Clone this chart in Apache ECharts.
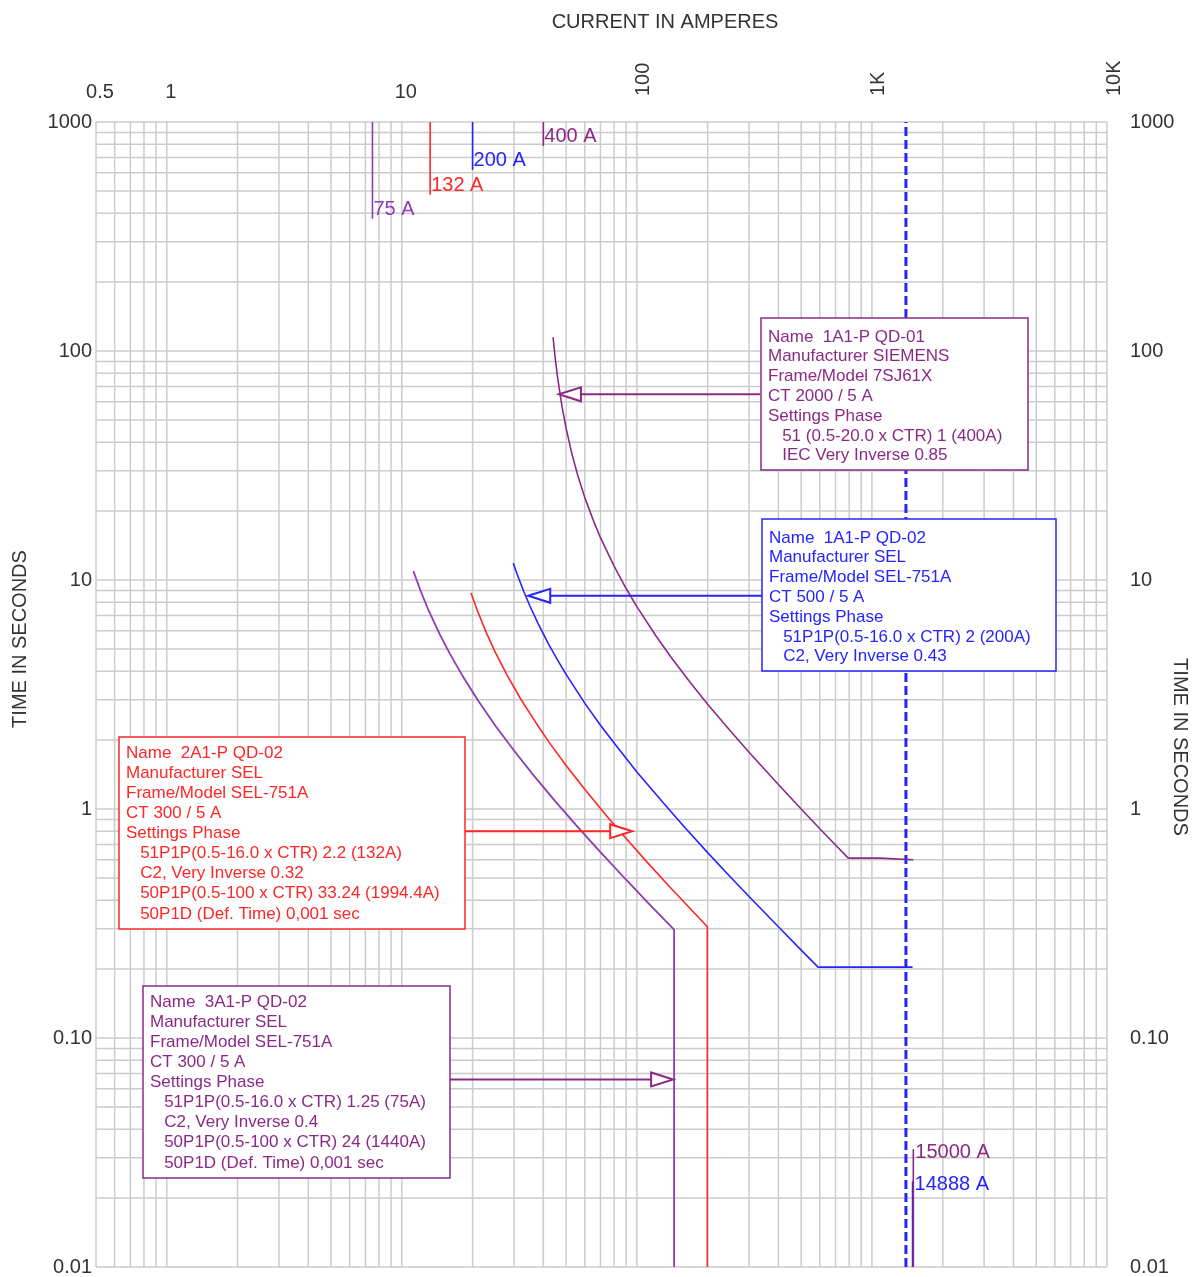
<!DOCTYPE html>
<html>
<head>
<meta charset="utf-8">
<title>Time-current curves</title>
<script src="https://cdn.jsdelivr.net/npm/echarts@6/dist/echarts.min.js"></script>
<style>
  html, body { margin: 0; padding: 0; background: #fff; }
  #main { width: 1192px; height: 1277px; }
</style>
</head>
<body>
<div id="main"></div>
<script>
// current axis is plotted as amperes / 10, time axis in seconds
const xTickValues = [0.5, 1, 10, 100, 1000, 10000];
const xTickLabels = ['0.5', '1', '10', '100', '1K', '10K'];
const yTickValues = [0.01, 0.1, 1, 10, 100, 1000];
const yTickLabels = ['0.01', '0.10', '1', '10', '100', '1000'];

// relay curves, [current, seconds]
const curveQD01 = [
  [44, 114.8], [45, 91.8], [46, 76.5], [48, 57.4], [50, 45.9], [53, 35.3], [56, 28.7],
  [60, 22.95], [65, 18.4], [70, 15.3], [80, 11.5], [90, 9.18], [100, 7.65], [120, 5.74],
  [140, 4.59], [170, 3.53], [200, 2.87], [250, 2.19], [300, 1.77], [400, 1.28],
  [500, 1.0], [600, 0.82], [700, 0.696], [793, 0.61], [1084, 0.61], [1084, 0.60], [1500, 0.60]
];
const curve1A1QD02 = [
  [29.8, 11.85], [31, 10.55], [33, 8.93], [35, 7.74], [38, 6.45], [42, 5.28], [46, 4.47],
  [50, 3.87], [60, 2.90], [70, 2.32], [80, 1.94], [100, 1.45], [130, 1.06], [160, 0.83],
  [200, 0.645], [250, 0.505], [300, 0.415], [400, 0.306], [500, 0.242], [590, 0.204],
  [1488.8, 0.204]
];
const curve2A1QD02 = [
  [19.7, 8.77], [21, 7.31], [23, 5.82], [25, 4.83], [28, 3.85], [32, 3.03], [37, 2.40],
  [43, 1.91], [50, 1.55], [60, 1.22], [75, 0.923], [90, 0.743], [110, 0.589], [135, 0.468],
  [165, 0.376], [199.44, 0.306], [199.44, 0.01]
];
const curve3A1QD02 = [
  [11.2, 10.95], [12, 9.0], [13, 7.36], [14.5, 5.79], [16, 4.77], [18, 3.86], [21, 3.0],
  [25, 2.31], [30, 1.8], [36, 1.42], [45, 1.08], [55, 0.853], [70, 0.648], [90, 0.491],
  [115, 0.377], [144, 0.297], [144, 0.01]
];
const faultLine = [[1395, 0.01], [1395, 1000]];

// pickup markers hanging from the top edge
const pickupCurrents = [7.5, 13.2, 20, 40];
const pickupEndTimes = [378, 481, 618, 786];
const pickupLabels = ['75 A', '132 A', '200 A', '400 A'];

// fault current markers standing on the bottom edge
const faultCurrents = [1488.8, 1500];
const faultTopTimes = [0.0237, 0.0327];
const faultLabels = ['14888 A', '15000 A'];

// leader arrows: from current, to current, at time
const arrowFrom = [335, 341, 18.6, 16.0];
const arrowTo = [46.6, 34.5, 95.5, 142.6];
const arrowTime = [64.7, 8.53, 0.80, 0.0659];

const box1Lines = ['Name  1A1-P QD-01', 'Manufacturer SIEMENS', 'Frame/Model 7SJ61X', 'CT 2000 / 5 A',
  'Settings Phase', '   51 (0.5-20.0 x CTR) 1 (400A)', '   IEC Very Inverse 0.85'];
const box2Lines = ['Name  1A1-P QD-02', 'Manufacturer SEL', 'Frame/Model SEL-751A', 'CT 500 / 5 A',
  'Settings Phase', '   51P1P(0.5-16.0 x CTR) 2 (200A)', '   C2, Very Inverse 0.43'];
const box3Lines = ['Name  2A1-P QD-02', 'Manufacturer SEL', 'Frame/Model SEL-751A', 'CT 300 / 5 A',
  'Settings Phase', '   51P1P(0.5-16.0 x CTR) 2.2 (132A)', '   C2, Very Inverse 0.32',
  '   50P1P(0.5-100 x CTR) 33.24 (1994.4A)', '   50P1D (Def. Time) 0,001 sec'];
const box4Lines = ['Name  3A1-P QD-02', 'Manufacturer SEL', 'Frame/Model SEL-751A', 'CT 300 / 5 A',
  'Settings Phase', '   51P1P(0.5-16.0 x CTR) 1.25 (75A)', '   C2, Very Inverse 0.4',
  '   50P1P(0.5-100 x CTR) 24 (1440A)', '   50P1D (Def. Time) 0,001 sec'];

// grid: every 1..9 step of each decade
const gridSteps = [1, 2, 3, 4, 5, 6, 7, 8, 9];
const xGrid = [];
[0.1, 1, 10, 100, 1000].forEach(d => gridSteps.forEach(s => { if (d * s >= 0.5) xGrid.push(d * s); }));
xGrid.push(10000);
const yGrid = [];
[0.01, 0.1, 1, 10, 100].forEach(d => gridSteps.forEach(s => yGrid.push(d * s)));
yGrid.push(1000);

const PURPLE = '#8b2a86';
const VIOLET = '#8e3cb2';
const RED = '#ff2626';
const BLUE = '#2424ff';
const GRID = '#cbcbcb';
const FONT = '"Liberation Sans", Arial, sans-serif';

const pickupColors = [VIOLET, RED, BLUE, PURPLE];
const faultColors = [BLUE, PURPLE];
const arrowColors = [PURPLE, BLUE, RED, PURPLE];

const X_MIN = 0.5, X_MAX = 10000, Y_MIN = 0.01, Y_MAX = 1000;

function tickLabel(values, labels, v) {
  for (let i = 0; i < values.length; i++) {
    if (Math.abs(Math.log10(v) - Math.log10(values[i])) < 1e-6) return labels[i];
  }
  return '';
}

const chart = echarts.init(document.getElementById('main'));

function box(left, top, width, height, lines, color, lineHeight, textTop) {
  return {
    type: 'group',
    z: 100,
    children: [
      { type: 'rect', z: 100, shape: { x: left, y: top, width: width, height: height },
        style: { fill: '#fff', stroke: color, lineWidth: 1.5 } },
      { type: 'text', z: 101, x: left + 7, y: top + textTop,
        style: { text: lines.join('\n'), font: '17px ' + FONT, lineHeight: lineHeight,
          fill: color, verticalAlign: 'top' } }
    ]
  };
}

const option = {
  animation: false,
  backgroundColor: '#fff',
  grid: { left: 96, right: 85, top: 122, bottom: 7 },
  xAxis: [
    {
      type: 'log', logBase: 10, min: X_MIN, max: X_MAX, position: 'top',
      axisLine: { show: false }, axisTick: { show: false }, splitLine: { show: false },
      axisLabel: {
        margin: 20, color: '#333', fontSize: 20, fontFamily: FONT, padding: [0, 0, 0, 8],
        formatter: v => (v < 100 ? tickLabel(xTickValues, xTickLabels, v) : '')
      }
    },
    {
      type: 'log', logBase: 10, min: X_MIN, max: X_MAX, position: 'top',
      axisLine: { show: false }, axisTick: { show: false }, splitLine: { show: false },
      axisLabel: {
        margin: 26, rotate: -90, color: '#333', fontSize: 20, fontFamily: FONT,
        verticalAlign: 'top', lineHeight: 14,
        formatter: v => (v >= 100 ? tickLabel(xTickValues, xTickLabels, v) : '')
      }
    }
  ],
  yAxis: [
    {
      type: 'log', logBase: 10, min: Y_MIN, max: Y_MAX, position: 'left',
      axisLine: { show: false }, axisTick: { show: false }, splitLine: { show: false },
      axisLabel: { margin: 4, color: '#333', fontSize: 20, fontFamily: FONT,
        formatter: v => tickLabel(yTickValues, yTickLabels, v) }
    },
    {
      type: 'log', logBase: 10, min: Y_MIN, max: Y_MAX, position: 'right',
      axisLine: { show: false }, axisTick: { show: false }, splitLine: { show: false },
      axisLabel: { margin: 23, color: '#333', fontSize: 20, fontFamily: FONT,
        formatter: v => tickLabel(yTickValues, yTickLabels, v) }
    }
  ],
  graphic: [
    { type: 'text', x: 665, y: 22, z: 100,
      style: { text: 'CURRENT IN AMPERES', font: '20px ' + FONT, fill: '#333',
        align: 'center', verticalAlign: 'middle' } },
    { type: 'text', x: 20, y: 639, rotation: Math.PI / 2, z: 100,
      style: { text: 'TIME IN SECONDS', font: '20px ' + FONT, fill: '#333',
        align: 'center', verticalAlign: 'middle' } },
    { type: 'text', x: 1180, y: 747, rotation: -Math.PI / 2, z: 100,
      style: { text: 'TIME IN SECONDS', font: '20px ' + FONT, fill: '#333',
        align: 'center', verticalAlign: 'middle' } },
    box(761, 318, 267, 152, box1Lines, PURPLE, 19.8, 9),
    box(762, 519, 294, 152, box2Lines, BLUE, 19.8, 9),
    box(119, 737, 346, 192, box3Lines, RED, 20.1, 6),
    box(143, 986, 307, 192, box4Lines, PURPLE, 20.1, 6)
  ],
  series: [
    {
      name: 'xgrid', type: 'custom', silent: true, z: 1,
      data: xGrid.map(v => [v, Y_MIN]),
      renderItem: (params, api) => {
        const a = api.coord([api.value(0), Y_MIN]);
        const b = api.coord([api.value(0), Y_MAX]);
        return { type: 'line', shape: { x1: a[0], y1: a[1], x2: b[0], y2: b[1] },
          style: { stroke: GRID, lineWidth: 1.5 } };
      }
    },
    {
      name: 'ygrid', type: 'custom', silent: true, z: 1,
      data: yGrid.map(v => [X_MIN, v]),
      renderItem: (params, api) => {
        const a = api.coord([X_MIN, api.value(1)]);
        const b = api.coord([X_MAX, api.value(1)]);
        return { type: 'line', shape: { x1: a[0], y1: a[1], x2: b[0], y2: b[1] },
          style: { stroke: GRID, lineWidth: 1.5 } };
      }
    },
    {
      name: 'fault', type: 'line', data: faultLine, showSymbol: false, z: 2, silent: true,
      lineStyle: { color: BLUE, width: 3, type: [9, 4] }
    },
    { name: '1A1-P QD-01', type: 'line', data: curveQD01, showSymbol: false, z: 3,
      lineStyle: { color: PURPLE, width: 1.6 } },
    { name: '1A1-P QD-02', type: 'line', data: curve1A1QD02, showSymbol: false, z: 3,
      lineStyle: { color: BLUE, width: 1.6 } },
    { name: '2A1-P QD-02', type: 'line', data: curve2A1QD02, showSymbol: false, z: 3,
      lineStyle: { color: RED, width: 1.6 } },
    { name: '3A1-P QD-02', type: 'line', data: curve3A1QD02, showSymbol: false, z: 3,
      lineStyle: { color: VIOLET, width: 1.8 } },
    {
      name: 'pickups', type: 'custom', silent: true, z: 4,
      data: pickupCurrents.map((c, i) => [c, pickupEndTimes[i]]),
      renderItem: (params, api) => {
        const i = params.dataIndex;
        const top = api.coord([api.value(0), Y_MAX]);
        const end = api.coord([api.value(0), api.value(1)]);
        return { type: 'group', children: [
          { type: 'line', shape: { x1: top[0], y1: top[1], x2: end[0], y2: end[1] },
            style: { stroke: pickupColors[i], lineWidth: 1.6 } },
          { type: 'text', x: end[0] + 1, y: end[1] + 1,
            style: { text: pickupLabels[i], font: '20px ' + FONT, fill: pickupColors[i],
              verticalAlign: 'bottom' } }
        ] };
      }
    },
    {
      name: 'faults', type: 'custom', silent: true, z: 4,
      data: faultCurrents.map((c, i) => [c, faultTopTimes[i]]),
      renderItem: (params, api) => {
        const i = params.dataIndex;
        const bottom = api.coord([api.value(0), Y_MIN]);
        const top = api.coord([api.value(0), api.value(1)]);
        return { type: 'group', children: [
          { type: 'line', shape: { x1: top[0], y1: top[1], x2: bottom[0], y2: bottom[1] },
            style: { stroke: faultColors[i], lineWidth: 1.6 } },
          { type: 'text', x: top[0] + 2, y: top[1] + 3,
            style: { text: faultLabels[i], font: '20px ' + FONT, fill: faultColors[i],
              verticalAlign: 'middle' } }
        ] };
      }
    },
    {
      name: 'arrows', type: 'custom', silent: true, z: 5,
      data: arrowFrom.map((c, i) => [c, arrowTo[i], arrowTime[i]]),
      renderItem: (params, api) => {
        const i = params.dataIndex;
        const start = api.coord([api.value(0), api.value(2)]);
        const tip = api.coord([api.value(1), api.value(2)]);
        const dir = tip[0] > start[0] ? 1 : -1;
        const base = tip[0] - dir * 22;
        return { type: 'group', children: [
          { type: 'line', shape: { x1: start[0], y1: start[1], x2: base, y2: tip[1] },
            style: { stroke: arrowColors[i], lineWidth: 2 } },
          { type: 'polygon', shape: { points: [[tip[0], tip[1]], [base, tip[1] - 7], [base, tip[1] + 7]] },
            style: { fill: '#fff', stroke: arrowColors[i], lineWidth: 2 } }
        ] };
      }
    }
  ]
};

chart.setOption(option);
</script>
</body>
</html>
